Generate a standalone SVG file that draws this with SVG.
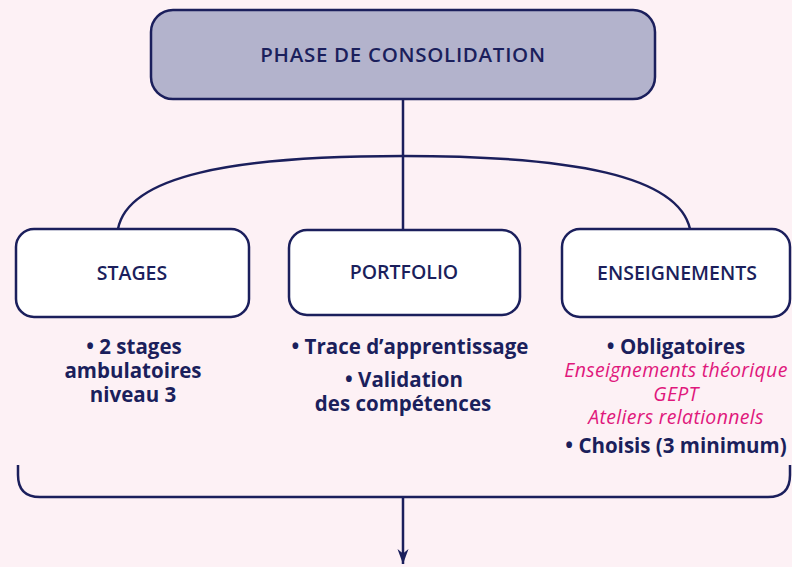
<svg xmlns="http://www.w3.org/2000/svg" width="792" height="567" viewBox="0 0 792 567">
  <defs>
    <marker id="arrow" markerWidth="16" markerHeight="12" refX="15" refY="6" orient="auto" markerUnits="userSpaceOnUse" viewBox="0 0 16 12">
      <path d="M0,0.5 L15,6 L0,11.5 L4.5,6 Z" fill="#1b1f5c"/>
    </marker>
  </defs>
  <style>
    .box { fill: #ffffff; stroke: #1b1f5c; stroke-width: 2.5; }
    .head { fill: #b3b3cc; stroke: #1b1f5c; stroke-width: 2.5; }
    .line { fill: none; stroke: #1b1f5c; stroke-width: 2.5; }
    .title { font-family: "Open Sans", "Noto Sans", sans-serif; font-weight: 600; fill: #1b1f5c; text-anchor: middle; }
    .item { font-family: "Open Sans", "Noto Sans", sans-serif; font-weight: 700; font-size: 20.5px; fill: #1b1f5c; text-anchor: middle; }
    .sub { font-family: "Open Sans", "Noto Sans", sans-serif; font-style: italic; font-size: 19.5px; letter-spacing: 0.3px; fill: #e0187c; text-anchor: middle; }
  </style>
  <rect width="792" height="567" fill="#fdf1f5"/>

  <g id="connectors">
    <line class="line" x1="403" y1="99" x2="403" y2="230"/>
    <path class="line" d="M118,229 C128,176 232,156 403,156 C574,156 678,176 690,229"/>
    <path class="line" d="M18,465 L18,475 Q18,497 40,497 L768,497 Q790,497 790,475 L790,465"/>
    <line class="line" x1="403" y1="497" x2="403" y2="564" marker-end="url(#arrow)"/>
  </g>

  <g id="phase">
    <rect class="head" x="151" y="10" width="504" height="89" rx="22"/>
    <text class="title" x="403" y="62" font-size="20.5" letter-spacing="0.7">PHASE DE CONSOLIDATION</text>
  </g>

  <g id="stages">
    <rect class="box" x="16" y="229" width="233" height="88" rx="18"/>
    <text class="title" x="132" y="280" font-size="19.5">STAGES</text>
    <text class="item" x="134" y="354">• 2 stages</text>
    <text class="item" x="133" y="378">ambulatoires</text>
    <text class="item" x="133" y="402">niveau 3</text>
  </g>

  <g id="portfolio">
    <rect class="box" x="289" y="230" width="231" height="85" rx="18"/>
    <text class="title" x="404" y="279" font-size="19.5">PORTFOLIO</text>
    <text class="item" x="410" y="354">• Trace d’apprentissage</text>
    <text class="item" x="404" y="387">• Validation</text>
    <text class="item" x="403" y="411">des compétences</text>
  </g>

  <g id="enseignements">
    <rect class="box" x="562" y="229" width="228" height="88" rx="18"/>
    <text class="title" x="677" y="280" font-size="19.5">ENSEIGNEMENTS</text>
    <text class="item" x="676" y="354">• Obligatoires</text>
    <text class="sub" x="676" y="377">Enseignements théorique</text>
    <text class="sub" x="676" y="401">GEPT</text>
    <text class="sub" x="676" y="424">Ateliers relationnels</text>
    <text class="item" x="676" y="453">• Choisis (3 minimum)</text>
  </g>
</svg>
